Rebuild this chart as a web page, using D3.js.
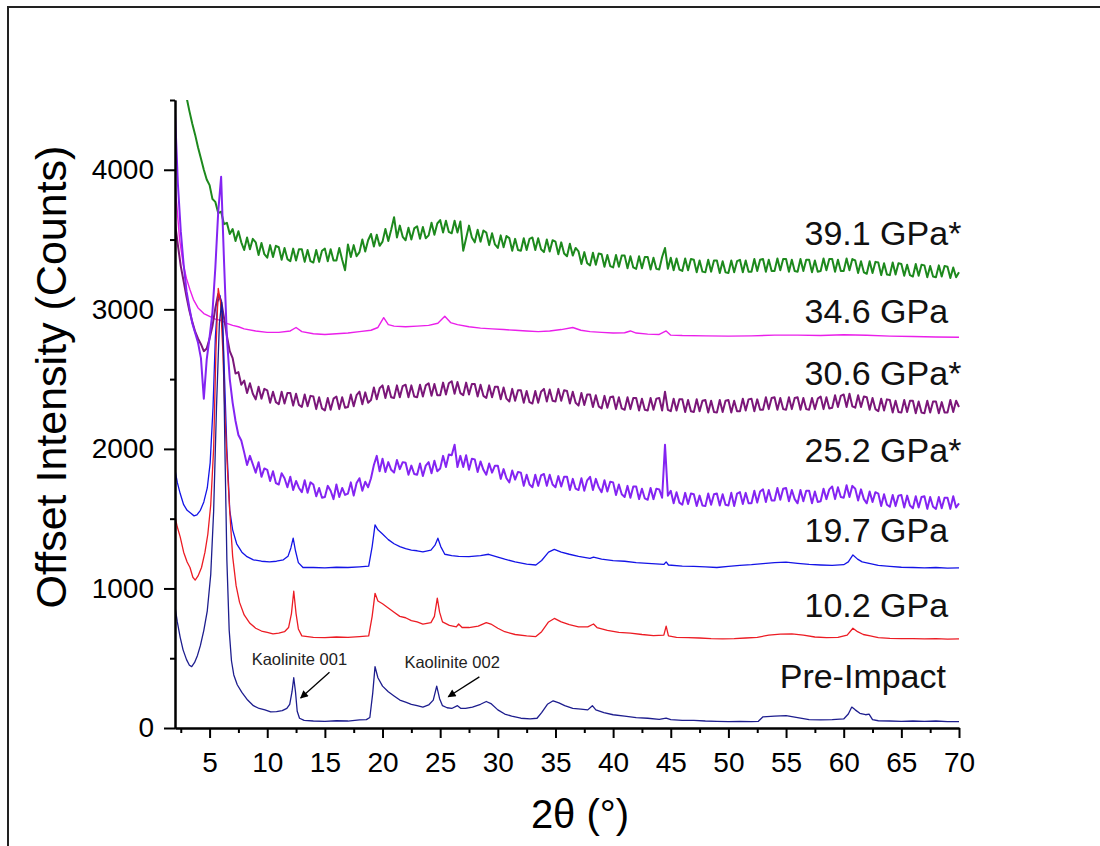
<!DOCTYPE html>
<html><head><meta charset="utf-8">
<script src="https://cdn.jsdelivr.net/npm/d3@7"></script>
<style>body{margin:0;background:#fff}svg{display:block}</style>
</head><body>
<svg id="chart" width="1100" height="846"></svg>
<script>
// ---------------- DATA ----------------
const seriesNames = ["Pre-Impact","10.2 GPa","19.7 GPa","25.2 GPa*","30.6 GPa*","34.6 GPa","39.1 GPa*"];
const xTicks = [5,10,15,20,25,30,35,40,45,50,55,60,65,70];
const yTicks = [0,1000,2000,3000,4000];
const xAxisTitle = "2\u03b8 (\u00b0)";
const yAxisTitle = "Offset Intensity (Counts)";
const annotationTexts = ["Kaolinite 001","Kaolinite 002"];

// [2theta, counts]
const preImpact = [[2,870],[2.2,760],[2.45,650],[2.7,560],[3.0,490],[3.25,450],[3.45,440],[3.7,470],[3.95,520],[4.2,590],[4.5,700],[4.8,840],[5.1,1100],[5.35,1550],[5.6,2300],[5.85,2900],[6.05,3050],[6.2,2700],[6.35,1900],[6.5,1200],[6.7,700],[6.9,480],[7.1,380],[7.4,310],[7.8,255],[8.3,200],[8.8,160],[9.3,140],[9.8,130],[10.3,115],[10.8,118],[11.3,125],[11.7,140],[11.95,170],[12.15,260],[12.3,360],[12.45,260],[12.6,120],[12.8,70],[13.2,55],[14,50],[15,48],[16,52],[17,50],[18,58],[18.6,60],[18.9,75],[19.15,250],[19.35,440],[19.6,360],[20,300],[20.5,260],[21,230],[21.5,200],[22,185],[22.5,170],[23,160],[23.5,150],[24,165],[24.4,200],[24.7,300],[24.95,210],[25.2,160],[25.6,145],[26,140],[26.5,160],[26.8,140],[27.2,140],[27.8,150],[28.5,170],[29,190],[29.4,175],[30,130],[30.6,100],[31.2,85],[32,70],[32.8,65],[33.4,70],[33.8,110],[34.3,170],[34.8,195],[35.3,180],[35.8,160],[36.5,140],[37.2,135],[37.8,130],[38.2,160],[38.5,130],[39.2,110],[40,95],[41,85],[42,75],[43,70],[44,62],[44.6,70],[45,60],[46,55],[47,55],[48,50],[49,47],[50,45],[51,48],[52,45],[52.6,48],[53,80],[54,85],[55,88],[56,75],[57,60],[58,58],[59,60],[60,65],[60.4,100],[60.7,150],[61,130],[61.4,105],[61.9,95],[62.2,100],[62.5,60],[63,52],[64,50],[65,48],[66,50],[67,47],[68,50],[69,45],[70,45]];

const gpa10 = [[2,1515],[2.2,1440],[2.45,1370],[2.75,1260],[3.05,1190],[3.3,1150],[3.55,1080],[3.75,1060],[4.0,1090],[4.3,1150],[4.6,1260],[4.85,1390],[5.1,1600],[5.35,2000],[5.55,2700],[5.75,3150],[5.95,3050],[6.15,2700],[6.35,2200],[6.55,1850],[6.75,1550],[7.0,1230],[7.3,1020],[7.6,900],[8.0,810],[8.5,750],[9.0,715],[9.5,695],[10.0,685],[10.5,675],[11.0,680],[11.5,690],[11.85,720],[12.1,820],[12.3,980],[12.5,820],[12.7,710],[13,660],[14,650],[15,648],[16,652],[17,650],[18,655],[18.8,660],[19.1,800],[19.35,965],[19.6,910],[20,890],[20.5,860],[21,830],[21.5,800],[22,790],[22.5,770],[23,760],[23.5,745],[24.2,755],[24.5,800],[24.75,930],[24.95,830],[25.2,760],[25.8,735],[26.4,725],[26.6,745],[26.9,720],[27.5,720],[28.3,730],[29,755],[29.4,745],[30,715],[30.6,690],[31.5,670],[32.5,660],[33.3,655],[33.8,690],[34.4,760],[34.9,785],[35.5,760],[36.2,740],[37,725],[37.8,725],[38.3,745],[38.6,720],[39.5,700],[40.5,685],[41.5,680],[42.5,670],[43.5,662],[44.4,665],[44.6,730],[44.8,660],[45.5,650],[46.5,648],[47.5,645],[48.5,640],[49.5,638],[50.5,640],[51.5,645],[52.5,650],[53.5,665],[54.5,672],[55.5,675],[56.5,665],[57.5,652],[58.5,648],[59.5,650],[60.3,665],[60.8,715],[61.2,690],[61.7,670],[62.3,660],[63,648],[64,642],[65,640],[66,640],[67,638],[68,640],[69,637],[70,638]];

const gpa19 = [[2,1850],[2.2,1760],[2.45,1680],[2.75,1600],[3.05,1560],[3.35,1540],[3.65,1520],[3.9,1527],[4.2,1560],[4.5,1620],[4.8,1720],[5.05,1900],[5.3,2300],[5.5,2800],[5.7,3050],[5.9,3100],[6.1,3000],[6.3,2500],[6.5,2000],[6.75,1560],[7.0,1420],[7.35,1320],[7.8,1260],[8.2,1230],[8.8,1205],[9.5,1195],[10.2,1190],[10.8,1195],[11.4,1205],[11.8,1230],[12.05,1290],[12.25,1360],[12.45,1270],[12.7,1185],[13.1,1150],[14,1150],[15,1148],[16,1152],[17,1150],[18,1155],[18.8,1160],[19.1,1300],[19.35,1455],[19.6,1420],[20,1390],[20.5,1350],[21,1320],[21.5,1300],[22,1285],[22.5,1275],[23,1270],[23.5,1262],[24.2,1275],[24.55,1310],[24.8,1360],[25.05,1300],[25.4,1245],[26,1235],[26.6,1230],[27.5,1228],[28.5,1235],[29.2,1245],[30,1225],[30.6,1210],[31.5,1190],[32.5,1175],[33.3,1168],[33.8,1200],[34.4,1260],[34.9,1280],[35.5,1260],[36.2,1245],[37,1230],[38,1215],[38.3,1225],[39,1210],[40,1200],[41,1195],[42,1185],[43,1180],[44.4,1172],[44.6,1190],[44.8,1168],[46,1160],[47,1158],[48,1155],[49,1150],[50,1158],[51,1165],[52,1170],[53,1178],[54,1185],[55,1188],[56,1180],[57,1172],[58,1168],[59,1165],[60,1170],[60.4,1190],[60.8,1240],[61.2,1210],[61.6,1190],[62.2,1180],[63,1165],[64,1158],[65,1152],[66,1150],[67,1148],[68,1150],[69,1146],[70,1147]];

// rows: [degree, counts at +0, +0.25, +0.5, +0.75]
const gpa25Rows = [[2,4410,3900,3560,3320],[3,3130,3010,2900,2830],[4,2760,2650,2360,2640],[5,2800,2980,3300,3700],[6,3950,3350,2800,2500],[7,2330,2200,2100,2060],
[8,1975,1885,1950,1890],[9,1830,1905,1800,1860],[10,1850,1770,1840,1755],[11,1745,1825,1790,1725],[12,1800,1705,1770,1720],[13,1690,1775,1685,1760],[14,1745,1660,1720,1650],[15,1655,1735,1700,1640],[16,1745,1655,1720,1670],[17,1680,1760,1665,1755],[18,1790,1700,1765,1725],[19,1790,1885,1950,1840],[20,1930,1835,1905,1850],[21,1830,1920,1855,1905],[22,1900,1815,1880,1820],[23,1815,1895,1805,1880],[24,1905,1825,1915,1840],[25,1860,1950,1870,1960],[26,1955,2030,1870,1950],[27,1870,1955,1850,1930],[28,1925,1835,1910,1850],[29,1815,1895,1830,1880],[30,1880,1785,1855,1790],[31,1760,1845,1780,1835],[32,1830,1735,1815,1745],[33,1725,1815,1735,1810],[34,1820,1735,1815,1745],[35,1725,1805,1730,1800],[36,1800,1705,1785,1715],[37,1705,1790,1700,1775],[38,1800,1705,1785,1725],[39,1690,1775,1695,1765],[40,1760,1670,1745,1675],[41,1655,1735,1650,1730],[42,1730,1640,1715,1645],[43,1635,1720,1640,1715],[44,1710,1650,2030,1665],[45,1700,1610,1690,1615],[46,1600,1685,1605,1680],[47,1675,1590,1665,1595],[48,1590,1680,1600,1675],[49,1680,1595,1675,1600],[50,1595,1685,1590,1680],[51,1690,1605,1685,1610],[52,1610,1700,1615,1695],[53,1710,1620,1705,1630],[54,1630,1720,1635,1715],[55,1720,1625,1705,1640],[56,1610,1705,1625,1700],[57,1700,1610,1695,1620],[58,1625,1715,1640,1710],[59,1730,1640,1725,1655],[60,1650,1740,1655,1735],[61,1715,1630,1710,1640],[62,1610,1695,1620,1690],[63,1680,1590,1675,1600],[64,1585,1670,1590,1665],[65,1670,1580,1665,1595],[66,1575,1660,1580,1655],[67,1660,1570,1655,1585],[68,1570,1655,1575,1650],[69,1650,1570,1660,1580],[70,1610]];

const gpa30Rows = [[2,3620,3460,3310,3200],[3,3090,2990,2910,2840],[4,2790,2750,2700,2720],[5,2790,2880,3010,3110],[6,3060,2940,2810,2700],[7,2650,2540,2550,2460],
[8,2490,2400,2470,2395],[9,2355,2445,2360,2430],[10,2420,2330,2410,2335],[11,2320,2410,2325,2400],[12,2400,2310,2395,2315],[13,2300,2390,2305,2380],[14,2375,2285,2370,2290],[15,2275,2365,2280,2360],[16,2375,2285,2370,2295],[17,2300,2390,2305,2385],[18,2410,2320,2405,2330],[19,2350,2440,2355,2435],[20,2455,2365,2450,2370],[21,2365,2455,2370,2450],[22,2460,2370,2455,2375],[23,2370,2460,2375,2455],[24,2470,2380,2465,2385],[25,2385,2475,2390,2470],[26,2485,2395,2480,2400],[27,2385,2475,2390,2465],[28,2465,2375,2460,2380],[29,2365,2455,2370,2445],[30,2445,2355,2440,2360],[31,2340,2430,2345,2420],[32,2420,2330,2415,2335],[33,2325,2415,2330,2410],[34,2430,2340,2425,2345],[35,2340,2430,2345,2420],[36,2415,2325,2410,2330],[37,2310,2400,2315,2390],[38,2390,2300,2385,2305],[39,2290,2380,2295,2370],[40,2375,2285,2370,2290],[41,2280,2370,2285,2365],[42,2365,2275,2360,2280],[43,2275,2365,2280,2360],[44,2365,2275,2410,2280],[45,2270,2360,2275,2355],[46,2355,2265,2350,2270],[47,2265,2355,2270,2345],[48,2350,2260,2345,2265],[49,2260,2350,2265,2345],[50,2350,2260,2345,2270],[51,2270,2360,2275,2355],[52,2360,2270,2355,2280],[53,2280,2370,2285,2365],[54,2370,2280,2365,2285],[55,2280,2370,2285,2365],[56,2370,2280,2365,2285],[57,2280,2365,2285,2360],[58,2375,2285,2370,2290],[59,2295,2385,2300,2380],[60,2390,2300,2395,2305],[61,2295,2385,2300,2375],[62,2370,2280,2365,2285],[63,2270,2360,2275,2355],[64,2350,2260,2345,2265],[65,2260,2350,2265,2345],[66,2345,2255,2340,2260],[67,2255,2345,2260,2340],[68,2340,2255,2335,2260],[69,2260,2350,2265,2345],[70,2300]];

const gpa34 = [[2,3900],[2.2,3700],[2.4,3500],[2.7,3330],[3,3220],[3.3,3140],[3.6,3070],[4,3010],[4.5,2970],[5,2950],[5.5,2930],[6,2920],[6.5,2900],[7,2885],[7.5,2875],[8,2860],[9,2845],[10,2835],[11,2835],[12,2845],[12.5,2870],[13,2840],[14,2825],[15,2820],[16,2825],[17,2830],[18,2840],[19,2850],[19.6,2870],[20.1,2940],[20.5,2890],[21,2880],[22,2875],[23,2880],[24,2885],[24.8,2900],[25.4,2950],[25.9,2905],[26.5,2890],[27.5,2875],[28.5,2865],[29.5,2860],[30.5,2855],[31.5,2850],[32.5,2845],[33.5,2840],[34.5,2845],[35.5,2855],[36.5,2870],[37.2,2850],[38,2840],[39,2835],[40,2830],[41,2832],[41.5,2845],[42,2830],[43,2822],[44,2820],[44.6,2845],[45,2815],[46,2812],[48,2810],[50,2808],[52,2810],[54,2815],[56,2815],[58,2812],[60,2818],[62,2814],[64,2808],[66,2805],[68,2802],[70,2800]];

const gpa39Rows = [[2,5200,5000,4800,4640],[3,4520,4420,4330,4250],[4,4160,4080,4000,3930],[5,3890,3790,3770,3690],[6,3700,3610,3620,3540],
[7,3575,3490,3560,3480],[8,3425,3515,3430,3505],[9,3480,3390,3475,3395],[10,3370,3460,3375,3455],[11,3445,3355,3440,3360],[12,3345,3435,3350,3430],[13,3430,3340,3425,3345],[14,3335,3425,3340,3420],[15,3435,3345,3430,3350],[16,3350,3440,3355,3280],[17,3465,3375,3460,3380],[18,3410,3500,3415,3495],[19,3540,3450,3535,3455],[20,3485,3575,3490,3570],[21,3660,3515,3600,3520],[22,3495,3585,3500,3580],[23,3595,3505,3590,3510],[24,3530,3620,3535,3615],[25,3640,3550,3635,3555],[26,3545,3635,3550,3630],[27,3420,3510,3600,3515],[28,3480,3570,3485,3565],[29,3550,3460,3545,3465],[30,3440,3530,3445,3525],[31,3510,3420,3505,3425],[32,3420,3510,3425,3505],[33,3515,3425,3510,3430],[34,3410,3500,3415,3495],[35,3485,3395,3480,3400],[36,3380,3470,3385,3440],[37,3415,3325,3410,3330],[38,3315,3405,3320,3400],[39,3395,3305,3390,3310],[40,3300,3390,3305,3385],[41,3385,3295,3380,3300],[42,3290,3380,3295,3375],[43,3375,3285,3370,3290],[44,3285,3375,3440,3290],[45,3370,3280,3365,3285],[46,3275,3365,3280,3360],[47,3355,3265,3350,3270],[48,3265,3355,3270,3350],[49,3350,3260,3345,3265],[50,3260,3350,3265,3345],[51,3355,3265,3350,3270],[52,3270,3360,3275,3355],[53,3360,3270,3355,3275],[54,3275,3365,3280,3360],[55,3360,3270,3355,3275],[56,3270,3360,3275,3355],[57,3355,3265,3350,3270],[58,3275,3365,3280,3360],[59,3360,3270,3355,3275],[60,3275,3365,3280,3360],[61,3350,3260,3345,3265],[62,3255,3345,3260,3340],[63,3335,3245,3330,3250],[64,3245,3335,3250,3330],[65,3325,3240,3320,3245],[66,3235,3325,3240,3320],[67,3315,3230,3310,3235],[68,3230,3315,3235,3310],[69,3305,3225,3300,3230],[70,3265]];

// ---------------- CHART ----------------
const rowsToPoints = rows => rows.flatMap(r => r.slice(1).map((v, j) => [r[0] + j * 0.25, v]));
const seriesData = [preImpact, gpa10, gpa19, rowsToPoints(gpa25Rows), rowsToPoints(gpa30Rows), gpa34, rowsToPoints(gpa39Rows)];
const colors = ["#1d1d8e", "#ec1c24", "#1414e6", "#8424f2", "#7b1779", "#ea1fea", "#1d891d"];
const widths = [1.3, 1.3, 1.3, 2.0, 2.0, 1.4, 2.0];

const FONT = "'Liberation Sans', Arial, sans-serif";
const svg = d3.select("#chart");
const L = 175, R = 959, T = 100, B = 728;
const x = d3.scaleLinear().domain([2, 70]).range([L, R]);
const y = d3.scaleLinear().domain([0, 4500]).range([B, T]);

// frame
svg.append("rect").attr("x", 8).attr("y", 7).attr("width", 1100).attr("height", 860)
  .attr("fill", "none").attr("stroke", "#222").attr("stroke-width", 2);

svg.append("clipPath").attr("id", "plot").append("rect")
  .attr("x", L).attr("y", T).attr("width", R - L + 2).attr("height", B - T);

const line = d3.line().x(d => x(d[0])).y(d => y(d[1]));
const drawOrder = [6, 5, 4, 3, 2, 1, 0];
const g = svg.append("g").attr("clip-path", "url(#plot)");
drawOrder.forEach(i => {
  g.append("path").datum(seriesData[i]).attr("d", line)
    .attr("fill", "none").attr("stroke", colors[i]).attr("stroke-width", widths[i])
    .attr("stroke-linejoin", "round");
});

// axes
const minorX = d3.range(2.5, 70, 5);
const minorY = d3.range(500, 4501, 1000);
const styleAxis = sel => {
  sel.selectAll("path.domain").attr("stroke", "#000").attr("stroke-width", 2);
  sel.selectAll(".tick line").attr("stroke", "#000").attr("stroke-width", 2);
  sel.selectAll("text").attr("font-family", FONT).attr("font-size", 28).attr("fill", "#000");
};
svg.append("g").attr("transform", `translate(0,${B})`)
  .call(d3.axisBottom(x).tickValues(minorX).tickSize(5).tickSizeOuter(0).tickFormat(""))
  .call(styleAxis);
svg.append("g").attr("transform", `translate(0,${B})`)
  .call(d3.axisBottom(x).tickValues(xTicks).tickSize(10).tickSizeOuter(0).tickPadding(14).tickFormat(d3.format("d")))
  .call(styleAxis);
svg.append("g").attr("transform", `translate(${L},0)`)
  .call(d3.axisLeft(y).tickValues(minorY).tickSize(5).tickSizeOuter(0).tickFormat(""))
  .call(styleAxis);
svg.append("g").attr("transform", `translate(${L},0)`)
  .call(d3.axisLeft(y).tickValues(yTicks).tickSize(11).tickSizeOuter(0).tickPadding(10).tickFormat(d3.format("d")))
  .call(styleAxis);

// axis titles
svg.append("text").attr("x", 580).attr("y", 828).attr("text-anchor", "middle")
  .attr("font-family", FONT).attr("font-size", 40).attr("fill", "#000").text(xAxisTitle);
svg.append("text").attr("transform", `translate(66,377) rotate(-90)`).attr("text-anchor", "middle")
  .attr("font-family", FONT).attr("font-size", 43).attr("fill", "#000").text(yAxisTitle);

// series labels (position in data coords)
const labelPos = [[54.45, 287], [56.6, 797], [56.6, 1335], [56.6, 1906], [56.6, 2458], [56.6, 2902], [56.6, 3461]];
seriesNames.forEach((n, i) => {
  svg.append("text").attr("x", x(labelPos[i][0])).attr("y", y(labelPos[i][1]))
    .attr("font-family", FONT).attr("font-size", 34).attr("fill", "#111").text(n);
});

// annotations
const annPos = [{t: [8.65, 452], from: [15.4, 400], to: [12.9, 215]},
                {t: [21.9, 430], from: [28.4, 366], to: [25.7, 224]}];
svg.append("defs").append("marker").attr("id", "arr").attr("viewBox", "0 0 10 10")
  .attr("refX", 9).attr("refY", 5).attr("markerWidth", 10).attr("markerHeight", 8)
  .attr("markerUnits", "userSpaceOnUse").attr("orient", "auto")
  .append("path").attr("d", "M0,0 L10,5 L0,10 Z").attr("fill", "#000");
annPos.forEach((a, i) => {
  svg.append("text").attr("x", x(a.t[0])).attr("y", y(a.t[1]))
    .attr("font-family", FONT).attr("font-size", 16.5).attr("fill", "#222").text(annotationTexts[i]);
  svg.append("line").attr("x1", x(a.from[0])).attr("y1", y(a.from[1]))
    .attr("x2", x(a.to[0])).attr("y2", y(a.to[1]))
    .attr("stroke", "#000").attr("stroke-width", 1.3).attr("marker-end", "url(#arr)");
});
</script>
</body></html>
